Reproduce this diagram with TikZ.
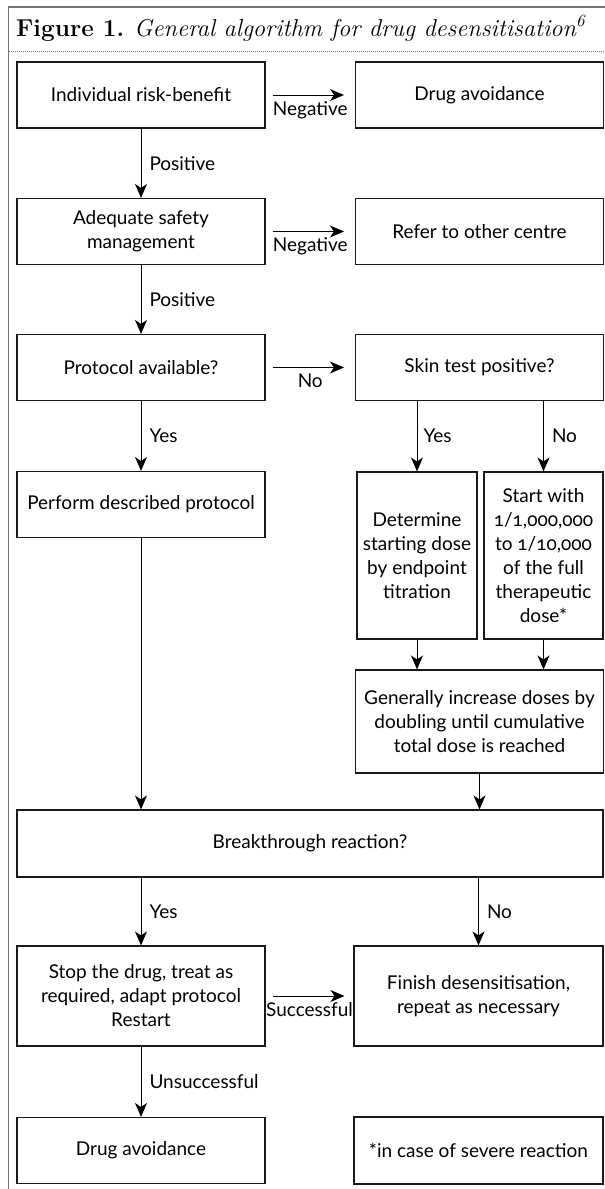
\documentclass[tikz,border=0pt]{standalone}
\usepackage{fontspec}
\newfontfamily\boxfont[Numbers=OldStyle]{Lato}
\usetikzlibrary{arrows.meta,positioning}

\newcommand{\boxtext}{\boxfont\fontsize{19}{24}\selectfont}

\tikzset{
  flowbox/.style={draw=black!90, line width=1.1pt, inner sep=0pt, align=center, font=\boxtext},
  wide/.style={minimum width=248pt, minimum height=66pt},
  narrow/.style={minimum width=120pt, minimum height=167pt},
  flow/.style={-{Stealth[length=14pt,width=12pt,inset=4pt]}, line width=1pt},
  tag/.style={font=\boxtext, inner sep=0pt}
}

\begin{document}
\begin{tikzpicture}[x=1pt, y=-1pt]
		\useasboundingbox (0,0) rectangle (605,1189);
		% Kader en titel
		\draw[black!55, line width=1.4pt] (8.5,1189) -- (8.5,7) -- (605,7);
		\draw[black!55, line width=0.7pt, dash pattern=on 0.8pt off 1.2pt] (8.5,51) -- (605,51);
		\node[anchor=base west, inner sep=0pt, font=\fontsize{24.4}{29}\selectfont] (title) at (16,36)
			{\textbf{Figure 1.} \textit{General algorithm for drug desensitisation\textsuperscript{6}}};

		% Linker kolom
		\node[flowbox, wide] (risk) at (141,95) {Individual risk-benefit};
		\node[flowbox, wide] (safety) at (141,231.5) {Adequate safety\\management};
		\node[flowbox, wide] (protocol) at (141,367.5) {Protocol available?};
		\node[flowbox, wide] (perform) at (141,504.5) {Perform described protocol};
		\node[flowbox, wide, minimum height=100pt] (stop) at (141,996)
			{Stop the drug, treat as\\required, adapt protocol\\Restart};
		\node[flowbox, wide] (avoidB) at (141,1150.5) {Drug avoidance};

		% Rechter kolom
		\node[flowbox, wide] (avoidA) at (479.5,95) {Drug avoidance};
		\node[flowbox, wide] (refer) at (479.5,231.5) {Refer to other centre};
		\node[flowbox, wide] (skin) at (479.5,367.5) {Skin test positive?};
		\node[flowbox, narrow] (titrate) at (417,555.5) {Determine\\starting dose\\by endpoint\\titration};
		\node[flowbox, narrow, minimum width=119pt] (start) at (543.5,555.5)
			{Start with\\1/1,000,000\\to 1/10,000\\of the full\\therapeutic\\dose*};
		\node[flowbox, wide, minimum height=103pt] (double) at (479.5,721.5)
			{Generally increase doses by\\doubling until cumulative\\total dose is reached};
		\node[flowbox, minimum width=249pt, minimum height=100pt] (finish) at (478.5,996)
			{Finish desensitisation,\\repeat as necessary};
		\node[flowbox, minimum width=249pt, minimum height=67pt] (note) at (478.5,1150.5)
			{*in case of severe reaction};

		% Brede vraag
		\node[flowbox, minimum width=586pt, minimum height=67pt] (react) at (310,843.5) {Breakthrough reaction?};

		% Horizontale pijlen
		\draw[flow, shorten <=7pt, shorten >=11pt] (risk.east) -- (avoidA.west)
			node[tag, midway, below=6pt] {Negative};
		\draw[flow, shorten <=7pt, shorten >=11pt] (safety.east) -- (refer.west)
			node[tag, midway, below=6pt] {Negative};
		\draw[flow, shorten <=7pt, shorten >=11pt] (protocol.east) -- (skin.west)
			node[tag, midway, below=6pt] {No};
		\draw[flow, shorten <=7pt, shorten >=9pt] (stop.east) -- (finish.west)
			node[tag, midway, below=6pt] {Successful};

		% Verticale pijlen links
		\draw[flow] (risk) -- (safety) node[tag, midway, right=8pt] {Positive};
		\draw[flow] (safety) -- (protocol) node[tag, midway, right=8pt] {Positive};
		\draw[flow] (protocol) -- (perform) node[tag, midway, right=8pt] {Yes};
		\draw[flow] (perform.south) -- (perform.south |- react.north);
		\draw[flow] (react.south -| stop.north) -- (stop.north) node[tag, midway, right=8pt] {Yes};
		\draw[flow] (stop) -- (avoidB) node[tag, midway, right=8pt] {Unsuccessful};

		% Verticale pijlen rechts
		\draw[flow] (skin.south -| titrate.north) -- (titrate.north) node[tag, midway, right=6pt] {Yes};
		\draw[flow] (skin.south -| start.north) -- (start.north) node[tag, midway, right=8pt] {No};
		\draw[flow] (titrate.south) -- (titrate.south |- double.north);
		\draw[flow] (start.south) -- (start.south |- double.north);
		\draw[flow] (double.south) -- (double.south |- react.north);
		\draw[flow] (react.south -| finish.north) -- (finish.north) node[tag, midway, right=8pt] {No};
	\end{tikzpicture}
\end{document}
